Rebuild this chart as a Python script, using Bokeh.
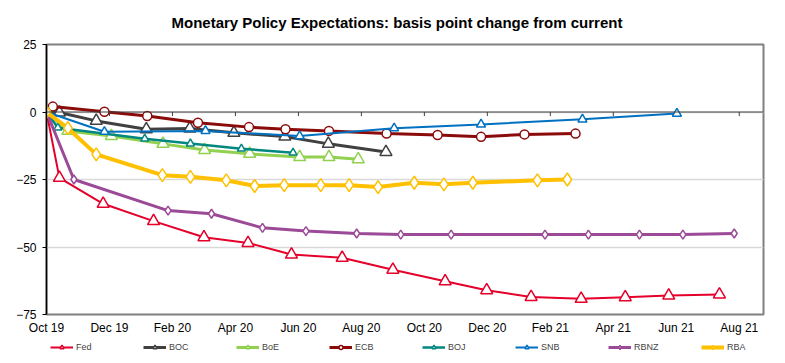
from bokeh.plotting import figure
from bokeh.layouts import column
from bokeh.models import Range1d, FixedTicker, Legend, LegendItem, Span
from bokeh.embed import file_html
from bokeh.resources import INLINE

# x positions are months since Oct 2019
tick_months = [0, 2, 4, 6, 8, 10, 12, 14, 16, 18, 20, 22]
tick_labels = ["Oct 19", "Dec 19", "Feb 20", "Apr 20", "Jun 20", "Aug 20",
               "Oct 20", "Dec 20", "Feb 21", "Apr 21", "Jun 21", "Aug 21"]
y_ticks = [-75, -50, -25, 0, 25]

fed_x = [0, 0.41, 1.8, 3.4, 5.0, 6.4, 7.78, 9.39, 11.0, 12.66, 13.98, 15.39, 16.98, 18.38, 19.76, 21.37]
fed_y = [0, -24.4, -34, -40.4, -46.4, -48.5, -52.8, -54, -58.4, -62.7, -66, -68.5, -69.2, -68.6, -68, -67.6]

boc_x = [0, 0.41, 1.58, 3.17, 4.55, 5.95, 7.57, 8.95, 10.78]
boc_y = [0, -0.2, -3.3, -6.4, -6.1, -7.7, -9.1, -11.8, -14.8]

boe_x = [0, 0.68, 2.06, 3.70, 5.02, 6.45, 8.04, 8.97, 9.9]
boe_y = [0, -7.0, -8.9, -11.8, -14.1, -15.5, -16.7, -16.7, -17.5]

ecb_x = [0.2, 1.84, 3.2, 4.81, 6.43, 7.59, 8.97, 10.8, 12.42, 13.8, 15.18, 16.8]
ecb_y = [2.0, 0.1, -1.5, -4.0, -5.6, -6.4, -7.0, -8.0, -8.5, -9.2, -8.3, -8.0]

boj_x = [0, 0.36, 3.12, 4.57, 6.19, 7.83]
boj_y = [0, -5.8, -9.9, -11.7, -13.6, -15.1]

snb_x = [0, 1.84, 5.05, 8.04, 11.04, 13.8, 17.02, 20.02]
snb_y = [0, -7.3, -7.0, -8.9, -6.0, -4.6, -2.7, -0.6]

rbnz_x = [0, 0.87, 3.86, 5.24, 6.86, 8.24, 9.85, 11.25, 12.85, 15.83, 17.21, 18.83, 20.21, 21.84]
rbnz_y = [0, -25.0, -36.5, -37.7, -42.9, -44.1, -45.0, -45.4, -45.4, -45.4, -45.4, -45.4, -45.4, -45.0]

rba_x = [0, 0.68, 1.58, 3.68, 4.57, 5.71, 6.61, 7.55, 8.71, 9.61, 10.53, 11.68, 12.62, 13.54, 15.59, 16.54]
rba_y = [0, -6.0, -15.7, -23.4, -24.0, -25.3, -27.4, -27.1, -27.1, -27.1, -27.8, -26.2, -26.8, -26.2, -25.3, -25.0]

FONT = "Liberation Sans"

series = [
    ("Fed", fed_x, fed_y, "#E4002B", 2, "triangle", 12),
    ("BOC", boc_x, boc_y, "#404040", 3, "triangle", 12),
    ("BoE", boe_x, boe_y, "#92D050", 3, "triangle", 12),
    ("ECB", ecb_x, ecb_y, "#8B0A0A", 3, "circle", 9),
    ("BOJ", boj_x, boj_y, "#00877F", 2.5, "triangle", 8),
    ("SNB", snb_x, snb_y, "#0070C0", 2, "triangle", 9),
    ("RBNZ", rbnz_x, rbnz_y, "#9B4A97", 3, "diamond", 9),
    ("RBA", rba_x, rba_y, "#FFC000", 4, "diamond", 13),
]

p = figure(width=769, height=338, output_backend="svg", toolbar_location=None,
           x_range=Range1d(0, 22.77), y_range=Range1d(-75, 25),
           min_border_left=46, min_border_right=6, min_border_top=44, min_border_bottom=24)
p.background_fill_color = "white"
p.border_fill_color = "white"
p.outline_line_color = "#808080"
p.outline_line_width = 2

p.title.text = "Monetary Policy Expectations: basis point change from current"
p.title.align = "left"
p.title.offset = 125
p.title.vertical_align = "top"
p.title.text_font = FONT
p.title.text_font_size = "15px"
p.title.text_font_style = "bold"
p.title.text_color = "black"
p.title.standoff = 24

xa = p.xaxis[0]
xa.ticker = FixedTicker(ticks=tick_months)
xa.major_label_overrides = {m: l for m, l in zip(tick_months, tick_labels)}
xa.axis_line_color = None
xa.major_tick_line_color = None
xa.major_tick_out = 0
xa.major_tick_in = 0
xa.minor_tick_line_color = None
xa.minor_tick_out = 0
xa.major_label_text_font = FONT
xa.major_label_text_font_size = "12px"
xa.major_label_text_color = "black"
xa.major_label_standoff = 6

ya = p.yaxis[0]
ya.ticker = FixedTicker(ticks=y_ticks)
ya.axis_line_color = "black"
ya.axis_line_width = 1.5
ya.major_tick_out = 4
ya.major_tick_in = 0
ya.major_tick_line_color = "black"
ya.minor_tick_line_color = None
ya.major_label_text_font = FONT
ya.major_label_text_font_size = "12px"
ya.major_label_text_color = "black"
ya.major_label_standoff = 6

p.xgrid.grid_line_color = None
p.ygrid.grid_line_color = "#D9D9D9"
p.ygrid.grid_line_width = 1.5

p.add_layout(Span(location=0, dimension="width", line_color="#404040", line_width=1))
p.segment(x0=tick_months, y0=[0] * len(tick_months), x1=tick_months,
          y1=[-1.5] * len(tick_months), line_color="#404040", line_width=1)

for name, xs, ys, col, lw, mk, sz in series:
    p.line(xs, ys, line_color=col, line_width=lw)
    p.scatter(xs, ys, marker=mk, size=sz, line_color=col, fill_color="white", line_width=1.5)

# separate strip holding the legend (its data lies outside its ranges)
lg = figure(width=769, height=14, output_backend="svg", toolbar_location=None,
            x_range=Range1d(1000, 1001), y_range=Range1d(1000, 1001),
            x_axis_location=None, y_axis_location=None, min_border=0)
lg.outline_line_color = None
lg.grid.visible = False
lg.background_fill_color = "white"
lg.border_fill_color = "white"

items = []
for name, xs, ys, col, lw, mk, sz in series:
    rl = lg.line(xs, ys, line_color=col, line_width=lw)
    rs = lg.scatter(xs, ys, marker=mk, size=sz, line_color=col, fill_color="white", line_width=1.5)
    items.append(LegendItem(label=name, renderers=[rl, rs]))

legend = Legend(items=items, orientation="horizontal", location=(4, 0))
legend.label_width = 67
legend.glyph_width = 23
legend.glyph_height = 10
legend.label_standoff = 3
legend.spacing = 0
legend.padding = 0
legend.margin = 0
legend.border_line_color = None
legend.background_fill_alpha = 0
legend.label_text_font = FONT
legend.label_text_font_size = "9px"
legend.label_height = 10
lg.add_layout(legend, "center")

layout = column(p, lg, spacing=0)
open("out.html", "w").write(file_html(layout, INLINE))
